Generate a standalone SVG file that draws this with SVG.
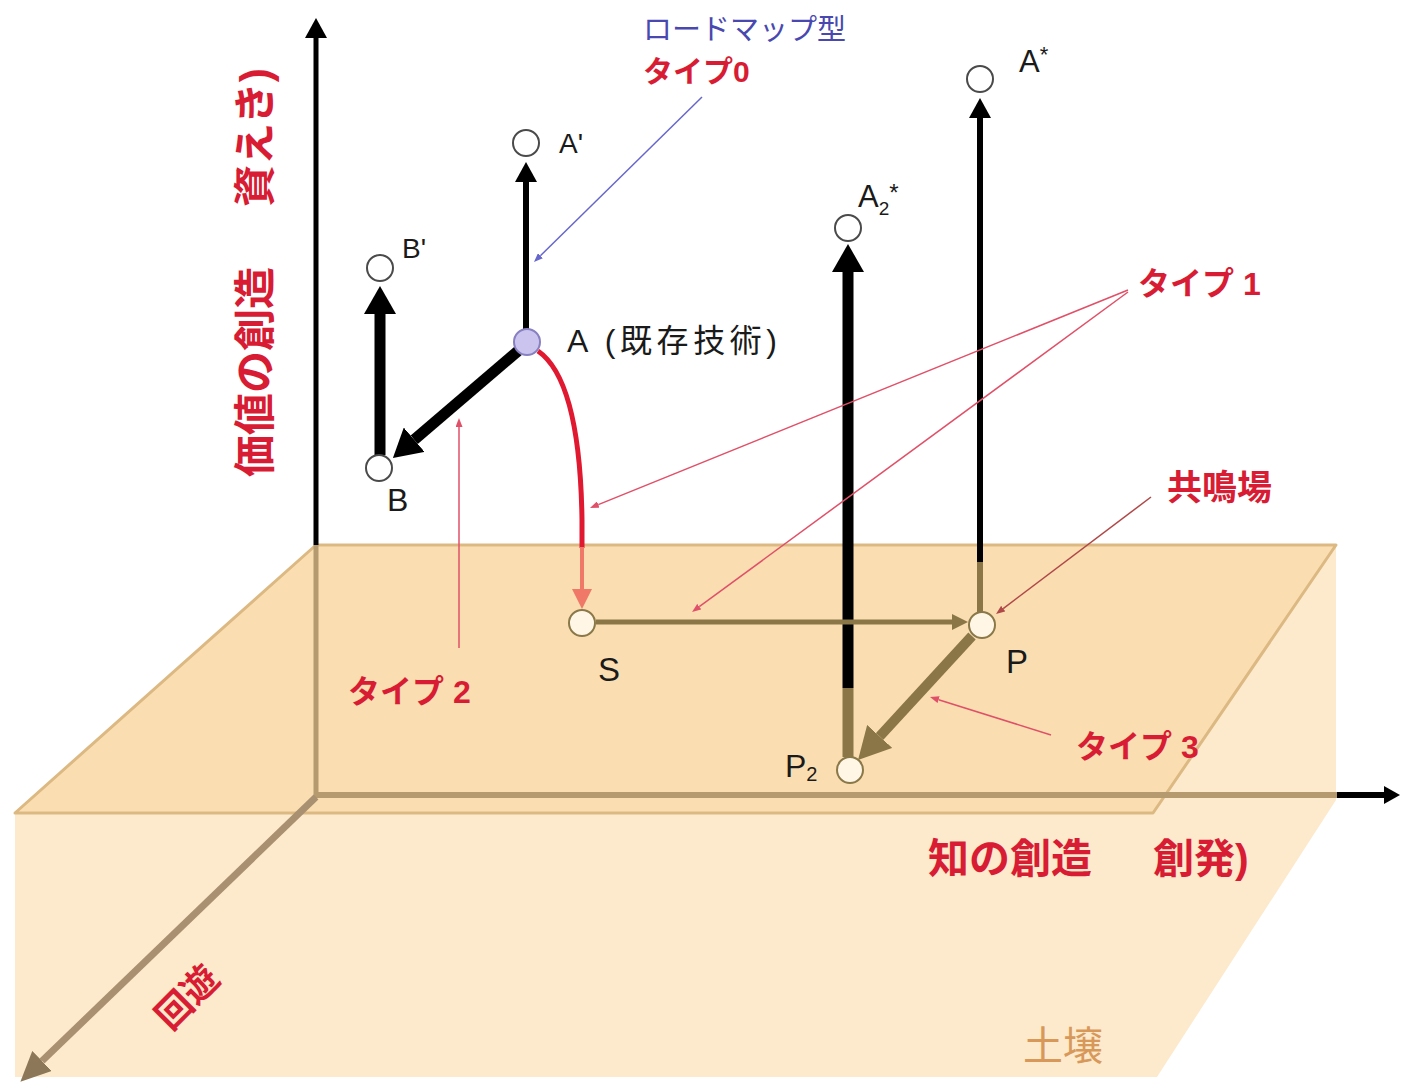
<svg xmlns="http://www.w3.org/2000/svg" width="1403" height="1088" viewBox="0 0 1403 1088">
<style>
text{font-family:"Liberation Sans","Noto Sans CJK JP",sans-serif}
.lbl{fill:#1a1a1a}
.red{fill:#d81c34;font-weight:bold}
.pt{fill:#ffffff;stroke:#4a4a4a;stroke-width:2}
.gpt{fill:#fff6e6;stroke:#8a7848;stroke-width:2}
.blk{stroke:#000;fill:none}
.olv{stroke:#8a7646;fill:none}
.tan{stroke:#b49a6e;fill:none}
.call{stroke:#e05068;stroke-width:1.5;fill:none}
</style>
<defs>
<marker id="m-blk-s" viewBox="0 0 20 22" markerWidth="20" markerHeight="22" refX="0" refY="11" orient="auto" markerUnits="userSpaceOnUse"><path d="M0,0 L20,11 L0,22 z" fill="#000"/></marker>
<marker id="m-blk-b" viewBox="0 0 28 32" markerWidth="28" markerHeight="32" refX="0" refY="16" orient="auto" markerUnits="userSpaceOnUse"><path d="M0,0 L28,16 L0,32 z" fill="#000"/></marker>
<marker id="m-axis-h" viewBox="0 0 16 18" markerWidth="16" markerHeight="18" refX="0" refY="9" orient="auto" markerUnits="userSpaceOnUse"><path d="M0,0 L16,9 L0,18 z" fill="#000"/></marker>
<marker id="m-depth" viewBox="0 0 30 28" markerWidth="30" markerHeight="28" refX="0" refY="14" orient="auto" markerUnits="userSpaceOnUse"><path d="M0,0 L30,14 L0,28 z" fill="#8c7858"/></marker>
<marker id="m-olv-s" viewBox="0 0 16 16" markerWidth="16" markerHeight="16" refX="0" refY="8" orient="auto" markerUnits="userSpaceOnUse"><path d="M0,0 L16,8 L0,16 z" fill="#8a7646"/></marker>
<marker id="m-olv-b" viewBox="0 0 32 34" markerWidth="32" markerHeight="34" refX="0" refY="17" orient="auto" markerUnits="userSpaceOnUse"><path d="M0,0 L32,17 L0,34 z" fill="#8a7646"/></marker>
<marker id="m-salmon" viewBox="0 0 20 20" markerWidth="20" markerHeight="20" refX="0" refY="10" orient="auto" markerUnits="userSpaceOnUse"><path d="M0,0 L20,10 L0,20 z" fill="#f07868"/></marker>
<marker id="m-call-r" viewBox="0 0 9 7" markerWidth="9" markerHeight="7" refX="0" refY="3.5" orient="auto" markerUnits="userSpaceOnUse"><path d="M0,0 L9,3.5 L0,7 z" fill="#e05068"/></marker>
<marker id="m-call-b" viewBox="0 0 9 7" markerWidth="9" markerHeight="7" refX="0" refY="3.5" orient="auto" markerUnits="userSpaceOnUse"><path d="M0,0 L9,3.5 L0,7 z" fill="#6666cc"/></marker>
<marker id="m-call-br" viewBox="0 0 9 7" markerWidth="9" markerHeight="7" refX="0" refY="3.5" orient="auto" markerUnits="userSpaceOnUse"><path d="M0,0 L9,3.5 L0,7 z" fill="#b04848"/></marker>
</defs>
<rect width="1403" height="1088" fill="#ffffff"/>

<g id="soil">
<polygon points="15,813 1153,813 1336,545 1336,800 1157,1077 15,1077" fill="#fdeacd"/>
<polygon points="316,545 1336,545 1153,813 15,813" fill="#fadeb2" stroke="#dcb982" stroke-width="3" stroke-linejoin="round"/>
<text x="1023" y="1060" font-size="40" fill="#d8985a">土壌</text>
</g>

<g id="axes">
<line class="tan" x1="316" y1="797" x2="316" y2="545" stroke-width="5"/>
<line class="blk" x1="316" y1="545" x2="316" y2="38" stroke-width="5" marker-end="url(#m-blk-s)"/>
<line class="tan" x1="316" y1="795" x2="1337" y2="795" stroke-width="6"/>
<line class="blk" x1="1337" y1="795" x2="1384" y2="795" stroke-width="6" marker-end="url(#m-axis-h)"/>
<line x1="316" y1="797" x2="42" y2="1061" stroke="#a89070" stroke-width="7" marker-end="url(#m-depth)"/>
<text class="red" font-size="42" transform="translate(270,477) rotate(-90)">価値の創造<tspan dx="60">資えき)</tspan></text>
<text class="red" x="928" y="873" font-size="41">知の創造</text>
<text class="red" x="1153" y="873" font-size="41">創発)</text>
<text class="red" font-size="36" text-anchor="middle" transform="translate(187,997) rotate(-45)" y="13">回遊</text>
</g>

<g id="connectors">
<line class="blk" x1="526" y1="329" x2="526" y2="182" stroke-width="6" marker-end="url(#m-blk-s)"/>
<line class="olv" x1="980" y1="612" x2="980" y2="562" stroke-width="6"/>
<line class="blk" x1="980" y1="562" x2="980" y2="118" stroke-width="6" marker-end="url(#m-blk-s)"/>
<line class="olv" x1="848" y1="757" x2="848" y2="688" stroke-width="11"/>
<line class="blk" x1="848" y1="688" x2="848" y2="272" stroke-width="11" marker-end="url(#m-blk-b)"/>
<line class="blk" x1="380" y1="455" x2="380" y2="314" stroke-width="11" marker-end="url(#m-blk-b)"/>
<line class="blk" x1="518" y1="351" x2="414.2" y2="439.7" stroke-width="11" marker-end="url(#m-blk-b)"/>
<line class="olv" x1="596" y1="622" x2="952" y2="622" stroke-width="5" marker-end="url(#m-olv-s)"/>
<line class="olv" x1="972" y1="636" x2="879.7" y2="736.4" stroke-width="10" marker-end="url(#m-olv-b)"/>
<path d="M538,351 Q580,380 582,520 L582,548" stroke="#e01830" stroke-width="5" fill="none"/>
<line x1="582" y1="547" x2="582" y2="589" stroke="#f07868" stroke-width="4" marker-end="url(#m-salmon)"/>
<g id="callouts">
<line x1="702" y1="97" x2="540.4" y2="255.7" stroke="#6666cc" stroke-width="1.5" marker-end="url(#m-call-b)"/>
<line class="call" x1="1128" y1="290" x2="598.3" y2="504.6" marker-end="url(#m-call-r)"/>
<line class="call" x1="1128" y1="292" x2="699.3" y2="606.7" marker-end="url(#m-call-r)"/>
<line class="call" x1="459" y1="648" x2="459" y2="427" marker-end="url(#m-call-r)"/>
<line x1="1151" y1="497" x2="1003.2" y2="608.6" stroke="#b04848" stroke-width="1.5" marker-end="url(#m-call-br)"/>
<line class="call" x1="1051" y1="735" x2="938.6" y2="699.7" marker-end="url(#m-call-r)"/>
</g>
</g>

<g id="label-type0">
<text x="643" y="40" font-size="29" fill="#4848b0">ロードマップ型</text>
<text class="red" x="643" y="82" font-size="30">タイプ0</text>
</g>
<g id="label-type1"><text class="red" x="1138" y="295" font-size="32">タイプ 1</text></g>
<g id="label-type2"><text class="red" x="348" y="703" font-size="32">タイプ 2</text></g>
<g id="label-type3"><text class="red" x="1076" y="758" font-size="32">タイプ 3</text></g>
<g id="label-kyomeiba"><text class="red" x="1167" y="500" font-size="35">共鳴場</text></g>

<g id="node-A1"><circle class="pt" cx="526" cy="143" r="13"/><text class="lbl" x="559" y="153" font-size="28">A'</text></g>
<g id="node-Astar"><circle class="pt" cx="980" cy="79" r="13"/><text class="lbl" x="1019" y="72" font-size="31">A<tspan dy="-10" font-size="22">*</tspan></text></g>
<g id="node-A2star"><circle class="pt" cx="848" cy="228" r="13"/><text class="lbl" x="858" y="207" font-size="31">A<tspan font-size="19" dy="8">2</tspan><tspan font-size="24" dy="-14">*</tspan></text></g>
<g id="node-B1"><circle class="pt" cx="380" cy="268" r="13"/><text class="lbl" x="402" y="258" font-size="28">B'</text></g>
<g id="node-A"><circle cx="527" cy="342" r="13" fill="#cac4ee" stroke="#8880c0" stroke-width="2"/><text class="lbl" x="567" y="352" font-size="32" textLength="210" lengthAdjust="spacing">A (既存技術)</text></g>
<g id="node-B"><circle class="pt" cx="379" cy="468" r="13"/><text class="lbl" x="387" y="511" font-size="32">B</text></g>
<g id="node-S"><circle class="gpt" cx="582" cy="623" r="13"/><text class="lbl" x="598" y="681" font-size="33">S</text></g>
<g id="node-P"><circle class="gpt" cx="982" cy="625" r="13"/><text class="lbl" x="1006" y="673" font-size="33">P</text></g>
<g id="node-P2"><circle class="gpt" cx="850" cy="770" r="13"/><text class="lbl" x="785" y="777" font-size="32">P<tspan font-size="20" dy="4">2</tspan></text></g>
</svg>
